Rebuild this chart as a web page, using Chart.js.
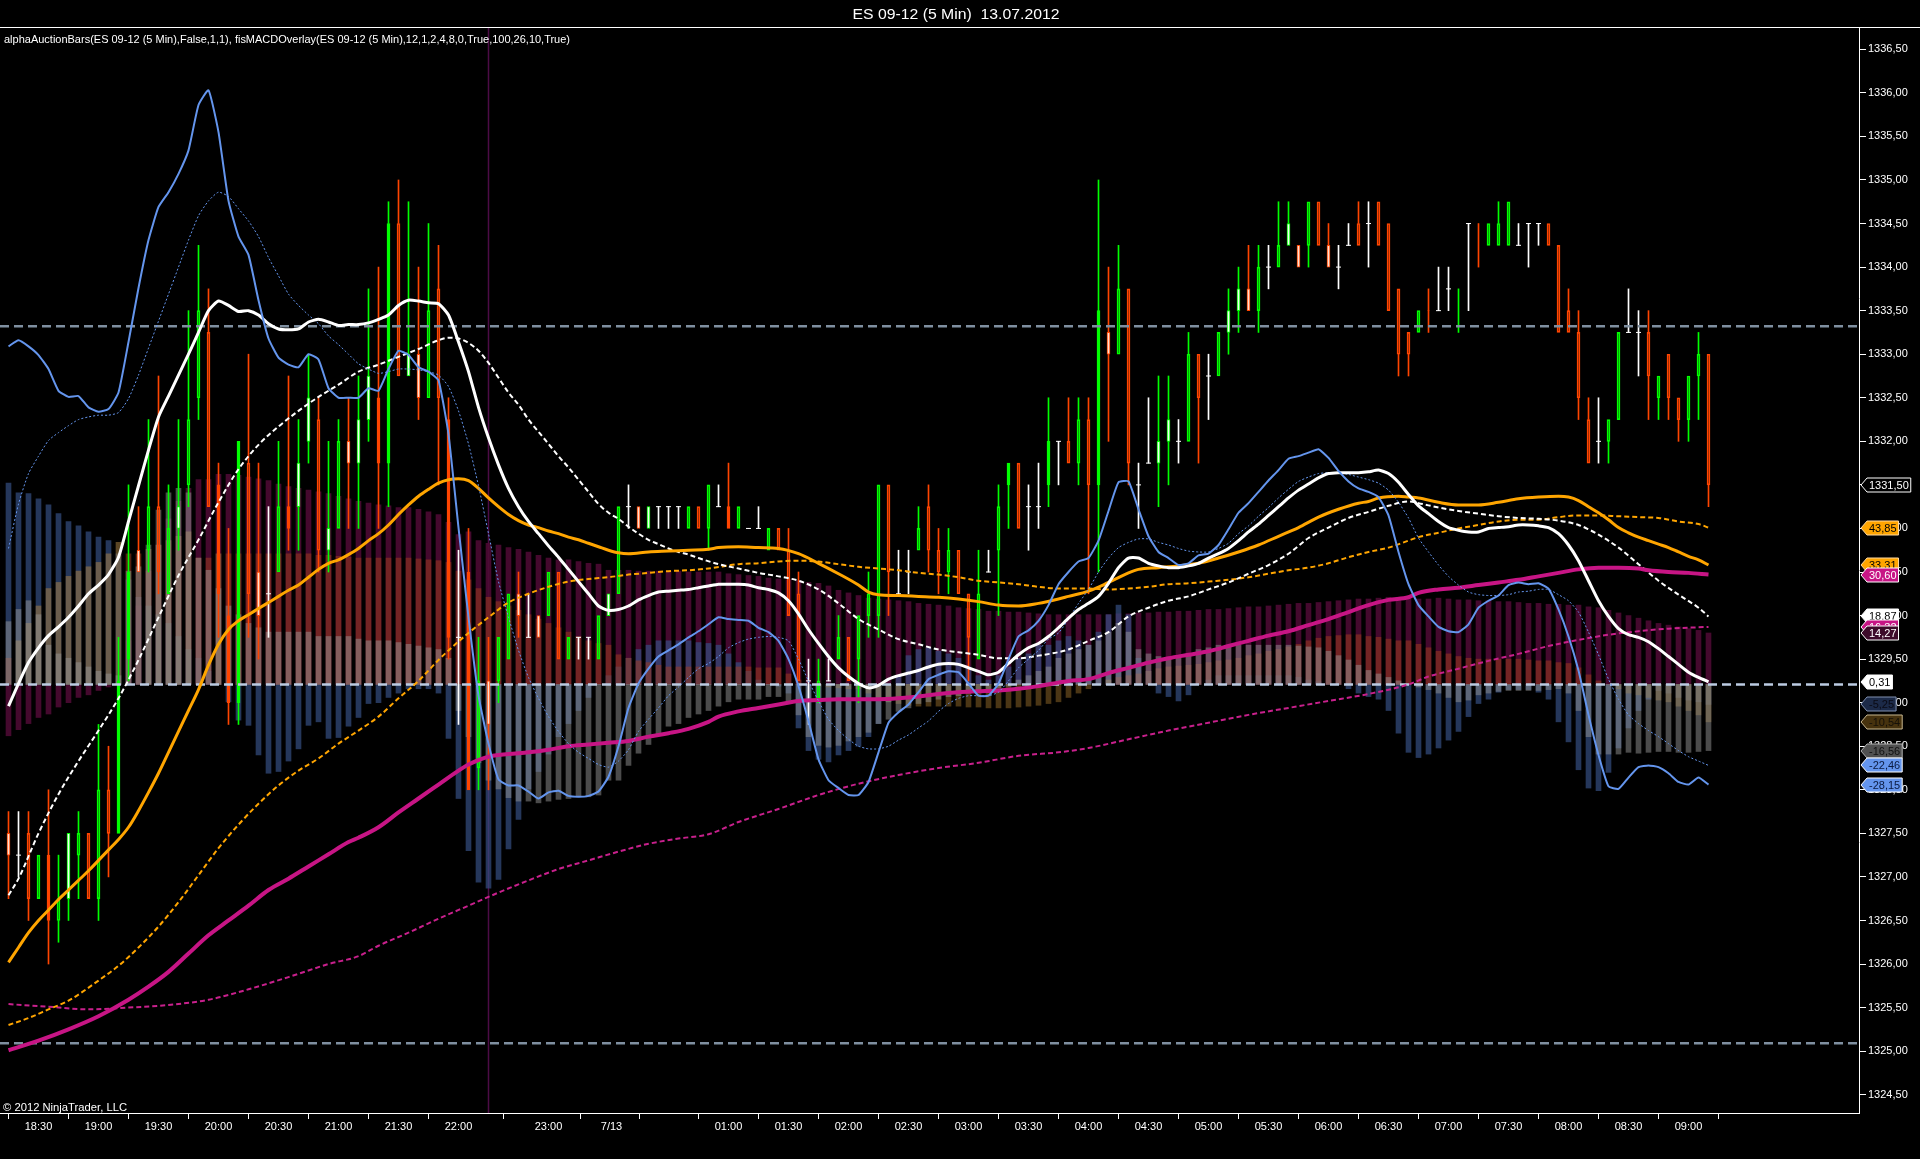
<!DOCTYPE html>
<html><head><meta charset="utf-8">
<script src="https://cdn.jsdelivr.net/npm/chart.js@4.4.1/dist/chart.umd.min.js"></script>
<style>html,body{margin:0;padding:0;background:#000;overflow:hidden}canvas{display:block}</style>
</head><body>
<canvas id="c" width="1920" height="1159"></canvas>
<script>
const TITLE = "ES 09-12 (5 Min)  13.07.2012";
const INDICATOR = "alphaAuctionBars(ES 09-12 (5 Min),False,1,1), fisMACDOverlay(ES 09-12 (5 Min),12,1,2,4,8,0,True,100,26,10,True)";
const COPYRIGHT = "\u00A9 2012 NinjaTrader, LLC";

const tickPos  = [3,9,15,21,27,33,39,45,54,60.3,65.9,72,78,84,90,96,102,108,114,120,126,132,138,144,150,156,162,168];
const tickText = ["18:30","19:00","19:30","20:00","20:30","21:00","21:30","22:00","23:00","7/13","","01:00","01:30","02:00","02:30","03:00","03:30","04:00","04:30","05:00","05:30","06:00","06:30","07:00","07:30","08:00","08:30","09:00"];
const priceTicks = [1324.5,1325,1325.5,1326,1326.5,1327,1327.5,1328,1328.5,1329,1329.5,1330,1330.5,1331,1331.5,1332,1332.5,1333,1333.5,1334,1334.5,1335,1335.5,1336,1336.5];

const refLevels = [1333.32, 1325.09];
const ZERO = 1329.21;
const sessionBreak = 48;

const open = [
1327.5,1327.25,1327.5,1326.75,1327.25,1326.5,1326.75,1327.25,1327.5,1326.75,
1328.0,1327.5,1329.5,1330.75,1330.75,1331.25,1330.25,1331.0,1331.5,1332.5,
1333.25,1331.5,1330.0,1329.0,1331.75,1330.5,1330.25,1330.5,1331.25,1331.25,
1332.0,1332.25,1330.75,1331.0,1332.0,1331.75,1332.25,1332.5,1331.75,1334.5,
1332.75,1333.0,1332.5,1333.75,1332.25,1329.75,1330.5,1328.25,1329.25,1329.25,
1329.5,1330.25,1329.75,1330.0,1330.0,1330.5,1329.5,1329.75,1329.75,1329.5,
1330.0,1330.25,1331.25,1331.25,1331.0,1331.25,1331.25,1331.25,1331.0,1331.25,
1331.0,1331.25,1331.25,1331.0,1331.0,1331.0,1330.75,1331.0,1330.75,1330.25,
1329.25,1329.0,1329.25,1329.5,1329.75,1329.5,1330.0,1330.0,1331.5,1330.25,
1330.5,1330.75,1331.25,1330.75,1330.5,1330.75,1330.25,1329.5,1330.5,1330.75,
1331.5,1331.75,1331.25,1331.25,1331.5,1332.0,1332.0,1331.75,1332.25,1331.5,
1333.25,1333.0,1333.75,1331.5,1331.75,1331.75,1332.0,1332.0,1332.0,1333.0,
1332.75,1332.75,1333.25,1333.5,1333.75,1333.5,1334.0,1334.0,1334.25,1334.25,
1334.25,1334.75,1334.25,1334.0,1334.25,1334.5,1334.5,1334.75,1334.5,1333.75,
1333.25,1333.25,1333.5,1333.75,1333.75,1333.75,1333.75,1334.5,1334.5,1334.25,
1334.25,1334.25,1334.5,1334.5,1334.5,1334.25,1333.5,1333.25,1332.25,1332.0,
1332.0,1332.25,1333.25,1333.25,1333.25,1332.5,1333.0,1332.5,1332.25,1332.75,
1333.0];
const high = [
1327.75,1327.75,1327.75,1327.25,1328.0,1327.25,1327.5,1327.75,1327.5,1328.75,
1328.5,1329.75,1331.5,1331.25,1332.25,1332.75,1331.5,1332.25,1333.5,1334.25,
1333.75,1331.75,1331.0,1332.0,1333.0,1331.75,1331.25,1332.0,1332.75,1332.25,
1333.0,1332.5,1332.0,1332.25,1332.5,1332.75,1333.75,1334.0,1334.75,1335.0,
1334.75,1334.0,1334.5,1334.25,1332.5,1330.75,1331.0,1329.75,1329.75,1329.75,
1330.25,1330.5,1330.25,1330.0,1330.5,1330.5,1329.75,1329.75,1329.75,1330.0,
1330.25,1331.25,1331.5,1331.25,1331.25,1331.25,1331.25,1331.25,1331.25,1331.25,
1331.5,1331.5,1331.75,1331.25,1331.0,1331.25,1331.0,1331.0,1331.0,1330.5,
1329.5,1329.5,1329.5,1330.0,1329.75,1330.0,1330.5,1331.5,1331.5,1330.75,
1330.75,1331.25,1331.5,1331.0,1331.0,1330.75,1330.25,1330.75,1330.75,1331.5,
1331.75,1331.75,1331.5,1331.75,1332.5,1332.0,1332.5,1332.5,1332.5,1335.0,
1334.0,1334.25,1333.75,1331.75,1332.5,1332.75,1332.75,1332.25,1333.25,1333.0,
1333.0,1333.25,1333.75,1334.0,1334.25,1334.25,1334.25,1334.75,1334.75,1334.25,
1334.75,1334.75,1334.5,1334.25,1334.5,1334.75,1334.75,1334.75,1334.5,1333.75,
1333.25,1333.5,1333.75,1334.0,1334.0,1333.75,1334.5,1334.5,1334.5,1334.75,
1334.75,1334.5,1334.5,1334.5,1334.5,1334.25,1333.75,1333.5,1332.5,1332.5,
1332.25,1333.25,1333.75,1333.5,1333.5,1332.75,1333.0,1332.5,1332.75,1333.25,
1333.0];
const low = [
1326.75,1327.0,1326.5,1326.75,1326.0,1326.25,1326.5,1326.75,1326.75,1326.5,
1327.0,1327.5,1329.25,1330.5,1330.5,1330.25,1330.25,1330.75,1331.25,1332.25,
1331.25,1329.75,1328.75,1328.75,1329.75,1329.5,1329.75,1330.5,1330.75,1330.75,
1331.75,1330.5,1330.5,1331.0,1331.0,1331.0,1332.0,1331.0,1331.25,1332.75,
1332.75,1332.25,1332.5,1331.5,1329.5,1328.75,1328.0,1328.0,1328.0,1329.0,
1329.5,1329.75,1329.75,1329.75,1330.0,1329.5,1329.5,1329.5,1329.5,1329.5,
1330.0,1330.25,1331.0,1331.0,1331.0,1331.0,1331.0,1331.0,1331.0,1331.0,
1330.75,1331.25,1331.0,1331.0,1331.0,1331.0,1330.75,1330.75,1330.0,1329.25,
1328.75,1329.0,1329.25,1329.5,1329.25,1329.0,1329.75,1329.75,1330.0,1330.25,
1330.25,1330.75,1330.5,1330.25,1330.25,1330.25,1329.25,1329.5,1330.5,1330.0,
1331.0,1331.0,1330.75,1331.0,1331.25,1331.5,1331.75,1331.5,1330.25,1330.5,
1332.0,1333.0,1331.5,1331.0,1331.75,1331.25,1331.5,1331.75,1332.0,1331.75,
1332.25,1332.75,1333.0,1333.25,1333.5,1333.25,1333.75,1334.0,1334.25,1334.0,
1334.0,1334.25,1334.0,1333.75,1334.25,1334.25,1334.0,1334.25,1333.5,1332.75,
1332.75,1333.25,1333.25,1333.5,1333.5,1333.25,1333.5,1334.0,1334.25,1334.25,
1334.25,1334.25,1334.0,1334.25,1334.25,1333.25,1333.25,1332.25,1331.75,1331.75,
1331.75,1332.25,1333.25,1332.75,1332.25,1332.25,1332.25,1332.0,1332.0,1332.25,
1331.25];
const close = [
1327.25,1327.25,1326.75,1327.25,1326.5,1326.75,1327.5,1327.5,1326.75,1328.0,
1327.5,1329.25,1330.5,1330.5,1331.25,1330.5,1331.0,1331.25,1332.25,1333.5,
1331.25,1330.25,1329.0,1332.0,1330.25,1330.0,1330.25,1331.25,1331.0,1331.75,
1332.5,1330.75,1331.0,1332.0,1331.75,1332.25,1332.75,1331.75,1334.5,1332.75,
1333.0,1332.5,1333.5,1332.5,1329.75,1329.75,1328.0,1329.25,1328.75,1329.75,
1330.25,1330.0,1329.75,1329.75,1330.5,1329.5,1329.75,1329.75,1329.75,1330.0,
1330.25,1331.25,1331.25,1331.0,1331.25,1331.25,1331.25,1331.25,1331.25,1331.0,
1331.5,1331.25,1331.0,1331.25,1331.0,1331.0,1331.0,1330.75,1330.0,1329.25,
1329.25,1329.25,1329.25,1329.75,1329.25,1330.0,1330.25,1331.5,1330.5,1330.25,
1330.5,1331.0,1330.75,1330.5,1330.75,1330.25,1329.75,1330.25,1330.5,1331.25,
1331.75,1331.0,1331.25,1331.25,1332.0,1332.0,1331.75,1332.25,1331.5,1333.5,
1333.0,1333.75,1331.75,1331.5,1331.75,1332.0,1332.25,1332.0,1333.0,1332.5,
1332.75,1333.25,1333.5,1333.75,1333.5,1334.0,1334.0,1334.25,1334.5,1334.0,
1334.75,1334.25,1334.0,1334.0,1334.25,1334.25,1334.5,1334.25,1333.5,1333.0,
1333.0,1333.5,1333.5,1333.5,1333.75,1333.75,1334.5,1334.5,1334.25,1334.5,
1334.75,1334.25,1334.5,1334.5,1334.25,1333.25,1333.25,1332.5,1331.75,1332.0,
1332.25,1333.25,1333.25,1333.25,1332.75,1332.75,1332.5,1332.25,1332.75,1333.0,
1331.5];
// g/G/a green (hollow/filled/pale fill), r/R/b orange-red, w white
const barColor =
"bwrgRgagrg"+"rGGbgrgagg"+"rRRGrbwgRa"+"aragbaaRGr"+"abgrRwRgbg"+
"gbwbgrgwwg"+"agwbawwwgr"+"gwRgwwgrrr"+"wgwgrgggrw"+"wgrrgrrgwg"+
"GrwwGwrgrG"+"bgrwwaawgr"+"wgaabgwgab"+"grbwwrwrrr"+"rgrwwgwrgg"+
"gwwwrrrrrw"+"ggwwrgrrgg"+"r";

const blueFast = [
1333.09,1333.16,1333.09,1332.99,1332.83,1332.58,1332.51,1332.52,1332.39,1332.34,
1332.37,1332.56,1333.14,1333.76,1334.31,1334.69,1334.86,1335.07,1335.34,1335.86,
1336.03,1335.55,1334.76,1334.35,1334.14,1333.62,1333.18,1332.96,1332.88,1332.85,
1333.00,1332.94,1332.61,1332.50,1332.50,1332.50,1332.61,1332.58,1332.83,1333.04,
1332.99,1332.85,1332.80,1332.70,1332.08,1331.01,1329.98,1329.08,1328.53,1328.12,
1328.05,1328.05,1327.98,1327.90,1327.97,1327.99,1327.93,1327.92,1327.93,1327.98,
1328.15,1328.50,1328.94,1329.22,1329.39,1329.53,1329.60,1329.67,1329.75,1329.82,
1329.90,1329.98,1329.96,1329.95,1329.94,1329.86,1329.81,1329.71,1329.50,1329.19,
1328.79,1328.35,1328.11,1328.02,1327.94,1327.94,1328.09,1328.43,1328.77,1328.89,
1328.98,1329.12,1329.27,1329.32,1329.36,1329.35,1329.22,1329.08,1329.08,1329.22,
1329.50,1329.76,1329.83,1329.94,1330.12,1330.36,1330.50,1330.62,1330.66,1330.86,
1331.20,1331.53,1331.54,1331.22,1330.91,1330.73,1330.66,1330.58,1330.60,1330.69,
1330.71,1330.81,1330.99,1331.18,1331.29,1331.42,1331.55,1331.67,1331.80,1331.83,
1331.87,1331.91,1331.81,1331.66,1331.54,1331.46,1331.42,1331.36,1331.15,1330.73,
1330.36,1330.12,1329.99,1329.87,1329.82,1329.81,1329.90,1330.09,1330.17,1330.23,
1330.35,1330.38,1330.36,1330.37,1330.31,1330.07,1329.76,1329.37,1328.86,1328.40,
1328.04,1328.01,1328.14,1328.26,1328.28,1328.26,1328.19,1328.09,1328.06,1328.14,
1328.06];
const blueSlow = [
1330.77,1331.28,1331.63,1331.83,1332.01,1332.10,1332.18,1332.25,1332.28,1332.30,
1332.30,1332.33,1332.49,1332.76,1333.07,1333.38,1333.69,1334.00,1334.31,1334.59,
1334.76,1334.86,1334.81,1334.67,1334.53,1334.35,1334.11,1333.90,1333.69,1333.56,
1333.45,1333.35,1333.21,1333.11,1333.00,1332.89,1332.83,1332.78,1332.80,1332.83,
1332.83,1332.82,1332.80,1332.76,1332.63,1332.35,1331.97,1331.49,1330.94,1330.39,
1329.98,1329.60,1329.29,1329.05,1328.84,1328.67,1328.53,1328.43,1328.36,1328.29,
1328.26,1328.33,1328.46,1328.67,1328.81,1328.94,1329.08,1329.18,1329.29,1329.39,
1329.45,1329.53,1329.63,1329.69,1329.73,1329.75,1329.76,1329.75,1329.71,1329.50,
1329.25,1329.02,1328.81,1328.68,1328.58,1328.50,1328.47,1328.47,1328.50,1328.57,
1328.63,1328.71,1328.79,1328.90,1328.99,1329.05,1329.08,1329.08,1329.08,1329.12,
1329.25,1329.40,1329.50,1329.60,1329.73,1329.80,1329.96,1330.14,1330.30,1330.50,
1330.66,1330.78,1330.84,1330.88,1330.88,1330.84,1330.81,1330.77,1330.74,1330.73,
1330.73,1330.77,1330.83,1330.94,1331.03,1331.14,1331.24,1331.35,1331.45,1331.54,
1331.59,1331.63,1331.64,1331.64,1331.62,1331.59,1331.56,1331.52,1331.44,1331.30,
1331.12,1330.89,1330.73,1330.58,1330.45,1330.35,1330.27,1330.24,1330.23,1330.23,
1330.24,1330.27,1330.28,1330.30,1330.30,1330.24,1330.17,1330.04,1329.81,1329.55,
1329.27,1329.04,1328.86,1328.76,1328.68,1328.61,1328.53,1328.45,1328.38,1328.33,
1328.28];
const whiteFast = [
1328.96,1329.22,1329.46,1329.63,1329.77,1329.87,1329.98,1330.11,1330.25,1330.35,
1330.47,1330.67,1331.08,1331.49,1331.90,1332.28,1332.52,1332.76,1333.00,1333.25,
1333.50,1333.61,1333.56,1333.49,1333.50,1333.45,1333.35,1333.29,1333.28,1333.29,
1333.37,1333.40,1333.37,1333.33,1333.34,1333.34,1333.36,1333.40,1333.45,1333.56,
1333.62,1333.61,1333.59,1333.58,1333.45,1333.14,1332.80,1332.39,1332.04,1331.73,
1331.46,1331.25,1331.08,1330.94,1330.80,1330.67,1330.53,1330.39,1330.25,1330.11,
1330.06,1330.07,1330.11,1330.18,1330.23,1330.27,1330.28,1330.29,1330.30,1330.32,
1330.34,1330.36,1330.36,1330.36,1330.35,1330.32,1330.30,1330.26,1330.17,1330.02,
1329.84,1329.68,1329.53,1329.40,1329.30,1329.22,1329.17,1329.20,1329.27,1329.31,
1329.34,1329.37,1329.41,1329.44,1329.45,1329.44,1329.40,1329.36,1329.32,1329.35,
1329.45,1329.55,1329.63,1329.68,1329.76,1329.86,1329.97,1330.07,1330.14,1330.22,
1330.37,1330.55,1330.66,1330.66,1330.60,1330.57,1330.55,1330.55,1330.57,1330.60,
1330.66,1330.71,1330.77,1330.86,1330.96,1331.05,1331.15,1331.25,1331.35,1331.44,
1331.51,1331.58,1331.63,1331.64,1331.64,1331.64,1331.65,1331.67,1331.63,1331.53,
1331.39,1331.26,1331.17,1331.08,1331.01,1330.98,1330.96,1330.96,1331.00,1331.01,
1331.02,1331.04,1331.04,1331.03,1331.01,1330.94,1330.81,1330.63,1330.40,1330.17,
1329.99,1329.85,1329.78,1329.75,1329.70,1329.62,1329.53,1329.44,1329.35,1329.29,
1329.24];
// [bar index, value] samples
const whiteSlow = [[0,1326.79],[1,1326.98],[3,1327.50],[5,1327.95],[7,1328.33],[9,1328.68],[11,1329.05],[13,1329.49],[15,1329.98],[17,1330.46],[19,1330.87],[21,1331.30],[23,1331.68],[25,1331.96],[27,1332.17],[29,1332.35],[31,1332.51],[33,1332.65],[35,1332.80],[37,1332.88],[39,1332.97],[41,1333.06],[43,1333.16],[44,1333.19],[45,1333.18],[46,1333.13],[47,1333.04],[48,1332.90],[49,1332.73],[50,1332.56],[51,1332.42],[52,1332.25],[53,1332.11],[54,1331.97],[55,1331.83],[56,1331.70],[57,1331.56],[58,1331.42],[59,1331.28],[60,1331.18],[61,1331.11],[62,1331.02],[63,1330.94],[64,1330.87],[65,1330.82],[66,1330.77],[67,1330.73],[68,1330.70],[69,1330.66],[71,1330.59],[73,1330.54],[75,1330.49],[77,1330.45],[79,1330.40],[81,1330.30],[83,1330.14],[85,1329.96],[87,1329.84],[89,1329.73],[91,1329.67],[93,1329.61],[95,1329.58],[97,1329.55],[99,1329.51],[101,1329.51],[103,1329.54],[105,1329.58],[106,1329.61],[108,1329.71],[110,1329.81],[112,1329.99],[114,1330.09],[116,1330.17],[118,1330.22],[120,1330.30],[122,1330.38],[124,1330.48],[126,1330.58],[128,1330.71],[130,1330.89],[132,1331.01],[134,1331.12],[136,1331.19],[138,1331.26],[140,1331.31],[141,1331.29],[143,1331.24],[145,1331.20],[147,1331.17],[149,1331.14],[151,1331.12],[153,1331.11],[155,1331.09],[157,1331.04],[158,1330.99],[159,1330.93],[161,1330.78],[163,1330.59],[165,1330.40],[167,1330.24],[169,1330.09],[170,1329.99]];
const orangeFast = [[0,1326.02],[1,1326.19],[2,1326.36],[3,1326.50],[4,1326.62],[5,1326.74],[6,1326.85],[7,1326.96],[8,1327.07],[9,1327.19],[10,1327.31],[11,1327.43],[12,1327.57],[13,1327.76],[14,1327.97],[15,1328.19],[16,1328.43],[17,1328.67],[18,1328.91],[19,1329.15],[20,1329.43],[21,1329.67],[22,1329.84],[23,1329.94],[24,1330.01],[25,1330.08],[26,1330.15],[27,1330.22],[28,1330.29],[29,1330.35],[30,1330.44],[31,1330.53],[32,1330.60],[33,1330.64],[34,1330.70],[35,1330.77],[36,1330.86],[37,1330.94],[38,1331.04],[39,1331.16],[40,1331.27],[41,1331.37],[42,1331.45],[43,1331.52],[44,1331.56],[45,1331.57],[46,1331.55],[47,1331.46],[48,1331.35],[49,1331.25],[50,1331.16],[51,1331.09],[52,1331.04],[53,1331.01],[54,1330.97],[55,1330.94],[56,1330.90],[57,1330.87],[58,1330.83],[59,1330.79],[60,1330.75],[61,1330.72],[62,1330.71],[64,1330.73],[66,1330.74],[68,1330.75],[70,1330.76],[71,1330.78],[73,1330.79],[75,1330.78],[77,1330.77],[79,1330.71],[81,1330.60],[83,1330.48],[85,1330.35],[86,1330.27],[87,1330.24],[89,1330.23],[91,1330.22],[93,1330.21],[95,1330.19],[97,1330.16],[99,1330.12],[101,1330.11],[103,1330.14],[105,1330.19],[106,1330.22],[108,1330.28],[110,1330.38],[112,1330.49],[113,1330.53],[115,1330.55],[117,1330.57],[119,1330.60],[121,1330.66],[123,1330.73],[125,1330.81],[127,1330.91],[129,1331.01],[131,1331.13],[133,1331.22],[135,1331.29],[136,1331.31],[137,1331.35],[139,1331.37],[140,1331.36],[141,1331.35],[143,1331.30],[145,1331.27],[147,1331.27],[149,1331.30],[151,1331.34],[153,1331.36],[155,1331.37],[156,1331.36],[157,1331.32],[158,1331.25],[159,1331.18],[160,1331.10],[161,1331.01],[162,1330.95],[163,1330.90],[164,1330.86],[165,1330.82],[166,1330.78],[167,1330.73],[168,1330.68],[169,1330.64],[170,1330.58]];
const orangeSlow = [[0,1325.30],[2,1325.38],[4,1325.48],[6,1325.58],[9,1325.81],[11,1325.98],[13,1326.19],[15,1326.43],[17,1326.71],[19,1327.02],[21,1327.33],[23,1327.60],[25,1327.84],[27,1328.05],[29,1328.22],[31,1328.36],[33,1328.53],[35,1328.68],[37,1328.84],[39,1329.05],[41,1329.25],[43,1329.49],[44,1329.60],[46,1329.80],[48,1329.98],[50,1330.15],[52,1330.25],[54,1330.33],[56,1330.39],[58,1330.42],[60,1330.44],[62,1330.47],[64,1330.49],[66,1330.51],[68,1330.52],[70,1330.54],[73,1330.59],[75,1330.60],[77,1330.62],[79,1330.63],[81,1330.62],[83,1330.59],[85,1330.56],[87,1330.54],[89,1330.52],[91,1330.49],[93,1330.47],[95,1330.44],[97,1330.40],[99,1330.38],[101,1330.36],[103,1330.33],[105,1330.31],[108,1330.31],[110,1330.30],[112,1330.31],[114,1330.33],[116,1330.36],[118,1330.37],[120,1330.39],[122,1330.41],[124,1330.44],[126,1330.48],[128,1330.52],[130,1330.55],[132,1330.60],[134,1330.67],[136,1330.73],[138,1330.78],[140,1330.86],[141,1330.90],[143,1330.95],[145,1331.00],[147,1331.04],[149,1331.08],[151,1331.10],[153,1331.10],[155,1331.13],[157,1331.15],[159,1331.15],[161,1331.14],[163,1331.13],[165,1331.12],[167,1331.08],[169,1331.05],[170,1331.01]];
const magentaFast = [[0,1325.01],[3,1325.12],[6,1325.25],[9,1325.40],[12,1325.59],[14,1325.74],[16,1325.91],[18,1326.12],[20,1326.33],[22,1326.50],[24,1326.67],[26,1326.85],[28,1326.98],[30,1327.12],[32,1327.26],[34,1327.40],[35,1327.45],[37,1327.57],[39,1327.74],[41,1327.90],[43,1328.06],[45,1328.22],[46,1328.29],[48,1328.38],[50,1328.41],[52,1328.43],[54,1328.46],[56,1328.50],[58,1328.52],[60,1328.54],[62,1328.56],[64,1328.61],[66,1328.65],[68,1328.70],[70,1328.78],[71,1328.84],[73,1328.90],[75,1328.94],[77,1328.98],[79,1329.02],[81,1329.03],[83,1329.04],[85,1329.04],[87,1329.04],[89,1329.05],[91,1329.07],[93,1329.10],[95,1329.12],[97,1329.13],[99,1329.14],[101,1329.16],[103,1329.19],[105,1329.23],[106,1329.25],[108,1329.27],[110,1329.34],[112,1329.40],[114,1329.46],[116,1329.51],[118,1329.55],[120,1329.59],[122,1329.65],[124,1329.71],[126,1329.77],[128,1329.82],[130,1329.89],[132,1329.96],[134,1330.04],[136,1330.12],[138,1330.18],[140,1330.21],[141,1330.26],[143,1330.30],[145,1330.32],[147,1330.35],[149,1330.38],[151,1330.41],[153,1330.45],[155,1330.49],[157,1330.53],[159,1330.55],[161,1330.55],[163,1330.54],[164,1330.52],[166,1330.50],[168,1330.49],[170,1330.47]];
const magentaSlow = [[0,1325.54],[4,1325.51],[8,1325.48],[12,1325.50],[16,1325.53],[20,1325.59],[24,1325.71],[28,1325.85],[32,1326.00],[35,1326.09],[37,1326.21],[40,1326.36],[43,1326.52],[46,1326.67],[49,1326.82],[52,1326.96],[55,1327.09],[58,1327.19],[61,1327.29],[64,1327.38],[67,1327.44],[70,1327.49],[73,1327.63],[77,1327.78],[81,1327.94],[85,1328.07],[89,1328.17],[93,1328.25],[97,1328.31],[101,1328.39],[105,1328.43],[108,1328.48],[112,1328.58],[116,1328.68],[120,1328.77],[124,1328.86],[128,1328.94],[132,1329.02],[136,1329.10],[140,1329.21],[142,1329.30],[145,1329.39],[148,1329.48],[151,1329.56],[154,1329.65],[157,1329.72],[160,1329.78],[163,1329.82],[166,1329.85],[170,1329.87]];

// histogram values (price offset from the zero line)
const hist1 = [
2.31,2.20,2.19,2.13,2.06,1.96,1.87,1.82,1.75,1.69,1.65,1.50,
1.20,1.00,0.90,0.80,0.70,0.55,0.40,0.30,0.15,0.00,
-0.20,-0.41,-0.47,-0.81,-1.02,-1.00,-0.88,-0.74,-0.47,-0.43,-0.62,-0.61,-0.48,-0.38,
-0.22,-0.21,-0.15,-0.10,-0.05,-0.05,-0.05,-0.10,
-0.62,-1.31,-1.91,-2.27,-2.34,-2.24,-1.89,-1.55,-1.20,-1.00,-0.80,-0.60,-0.45,-0.30,-0.15,0.00,
0.10,0.20,0.30,0.40,0.45,0.50,0.50,0.50,0.50,0.48,
0.47,0.45,0.35,0.25,0.15,0.05,0.00,-0.02,-0.10,
-0.50,-0.76,-0.86,-0.89,-0.81,-0.76,-0.71,-0.60,-0.45,-0.20,
0.10,0.33,0.40,0.42,0.38,0.35,0.30,0.20,0.10,0.05,0.10,0.20,0.30,0.35,0.45,0.45,0.50,
0.55,0.50,0.45,0.60,0.80,0.91,0.80,0.30,0.15,-0.10,-0.14,-0.19,-0.12,0.00,
0.05,0.10,0.10,0.10,0.10,0.10,0.10,0.10,0.10,0.08,0.05,0.03,0.00,0.00,
-0.05,-0.10,-0.14,-0.17,-0.30,-0.56,-0.78,
-0.84,-0.80,-0.73,-0.64,-0.54,-0.37,-0.22,-0.17,-0.09,-0.06,-0.06,-0.06,-0.09,-0.17,-0.43,-0.66,-0.98,-1.19,-1.22,-1.01,-0.73,-0.50,-0.30,-0.17,-0.07,-0.10,-0.15,-0.18,-0.20,-0.23];
const hist2 = [
0.72,0.86,0.96,0.80,0.45,0.35,0.30,0.25,0.20,0.15,0.12,0.10,
1.30,1.35,1.60,2.00,2.20,2.25,2.20,1.45,1.31,1.10,
0.90,0.80,0.70,0.65,0.60,0.60,0.60,0.60,0.60,0.55,0.55,0.55,0.55,0.52,
0.50,0.50,0.50,0.48,0.46,0.44,0.42,0.40,0.30,
-0.30,-0.60,-0.90,-1.10,-1.20,-1.30,-1.34,-1.34,-1.36,-1.34,-1.32,-1.31,-1.29,-1.29,-1.27,
-1.10,-1.10,-0.93,-0.79,-0.69,-0.58,-0.48,-0.45,-0.38,-0.34,-0.30,
-0.25,-0.20,-0.17,-0.17,-0.17,-0.14,-0.14,-0.22,
-0.35,-0.60,-0.70,-0.72,-0.70,-0.65,-0.60,-0.55,-0.45,-0.40,
-0.31,-0.27,-0.22,-0.20,-0.17,-0.14,-0.13,-0.10,-0.08,-0.06,-0.04,-0.02,
0.05,0.10,0.15,0.20,0.30,0.35,0.40,0.45,0.50,0.60,0.70,0.60,
0.40,0.35,0.32,0.30,0.30,0.35,0.40,0.42,0.45,0.45,0.45,0.45,0.45,0.45,0.45,0.45,0.44,0.43,0.42,
0.38,0.33,0.28,0.22,0.16,0.12,0.08,0.04,0.00,
-0.03,-0.06,-0.10,-0.15,-0.20,-0.18,-0.12,-0.10,-0.08,-0.07,-0.07,-0.07,-0.07,-0.06,-0.05,-0.10,
-0.30,-0.60,-0.80,-0.80,-0.80,-0.78,-0.79,-0.78,-0.77,-0.77,-0.78,-0.78,-0.77,-0.76];
const hist3 = [
0.30,0.50,0.70,0.90,1.10,1.17,1.24,1.30,1.35,1.40,1.50,1.63,
1.50,1.50,1.55,1.60,1.65,1.70,1.75,1.45,1.45,1.50,
1.50,1.50,1.50,1.50,1.50,1.50,1.50,1.50,1.50,1.48,1.48,1.47,1.46,1.45,
1.45,1.45,1.45,1.45,1.45,1.44,1.43,1.42,1.40,1.30,1.20,1.10,
1.00,0.95,0.90,0.85,0.80,0.75,0.70,0.65,0.60,0.55,0.50,0.47,0.45,
0.34,0.30,0.27,0.25,0.22,0.20,0.20,0.20,0.20,0.20,0.20,0.20,0.20,0.20,0.19,0.19,0.19,0.12,0.05,0.00,
-0.02,-0.03,-0.04,-0.05,-0.05,-0.10,-0.15,-0.20,-0.22,-0.24,-0.25,-0.25,-0.25,-0.25,-0.25,-0.26,-0.26,-0.27,-0.27,-0.27,-0.26,-0.25,-0.24,-0.22,-0.20,
-0.15,-0.10,-0.05,0.00,0.05,0.08,0.10,0.12,0.15,0.18,0.20,0.21,0.22,0.23,0.25,0.27,0.28,0.30,0.33,0.35,0.38,0.40,0.43,0.46,0.50,0.53,0.55,0.56,0.57,0.57,0.55,0.54,0.52,0.50,0.50,
0.46,0.42,0.38,0.35,0.32,0.30,0.29,0.29,0.29,0.29,0.29,0.28,0.27,0.27,0.25,0.24,0.19,0.11,0.04,0.00,-0.05,-0.10,-0.12,-0.15,-0.18,-0.20,-0.25,-0.30,-0.35,-0.43];
const hist4 = [
-0.59,-0.52,-0.45,-0.38,-0.34,-0.26,-0.21,-0.15,-0.12,-0.07,-0.03,0.00,
0.50,0.90,1.30,1.60,1.90,2.10,2.25,2.35,
2.35,2.41,2.41,2.40,2.38,2.36,2.34,2.30,2.27,2.25,2.23,2.21,2.19,2.16,2.13,2.10,
2.08,2.06,2.05,2.03,2.03,2.01,1.98,1.95,1.86,1.72,1.75,1.65,
1.62,1.60,1.57,1.55,1.52,1.48,1.45,1.43,1.43,1.41,1.39,1.38,1.31,1.31,1.31,
1.30,1.30,1.30,1.30,1.30,1.29,1.29,
1.29,1.29,1.27,1.26,1.25,1.24,1.22,1.21,1.20,1.19,1.17,1.16,1.13,1.08,1.05,1.02,0.99,0.98,0.97,0.96,0.95,0.93,0.92,0.91,0.90,0.88,0.87,0.86,0.84,0.84,0.83,0.83,0.82,0.81,0.80,0.80,
0.80,0.80,0.80,0.80,0.80,0.81,0.81,0.82,0.82,0.83,0.83,0.84,0.84,0.85,0.86,0.86,0.87,0.88,0.89,0.89,0.90,0.91,0.92,0.93,0.93,0.94,0.95,0.96,0.97,0.98,0.98,0.99,1.00,1.00,1.01,
0.98,0.98,0.99,0.98,0.97,0.97,0.96,0.96,0.95,0.95,0.94,0.93,0.93,0.92,0.92,0.91,0.91,0.89,0.88,0.85,0.82,0.79,0.76,0.73,0.70,0.68,0.66,0.64,0.62,0.59];

const flagTexts = ["43,85","33,31","30,60","18,87","16,32","14,27","0,31","-5,25","-10,54","-16,56","-22,46","-28,15","1331,50"];

// ---------------------------------------------------------------
const FONT = '"Liberation Sans", Arial, Helvetica, sans-serif';
Chart.defaults.font.family = FONT;
Chart.defaults.font.size = 11;
Chart.defaults.color = '#ffffff';

const X_MIN = -0.85, X_MAX = 185.05;
const Y_MIN = 1324.29, Y_MAX = 1336.756;
const last = a => a[a.length - 1];
const lastPair = a => a[a.length - 1][1];

const COL = {g:'#00ff00',G:'#00ff00',a:'#00ff00',r:'#ff4500',R:'#ff4500',b:'#ff4500',w:'#ffffff'};
const FILL = {g:'rgba(0,0,0,0)',G:'#00ff00',a:'#f2fff2',r:'rgba(0,0,0,0)',R:'#ff4500',b:'#ffe0d0'};

const wickData = [], bodyData = [], dojiData = [];
close.forEach((c, i) => {
  const k = barColor[i];
  const top = Math.max(open[i], c), bot = Math.min(open[i], c);
  if (k === 'w') {
    wickData.push({x:i, y:[low[i], high[i]], k});
    dojiData.push({x:i, y:c});
  } else {
    if (high[i] > top) wickData.push({x:i, y:[top, high[i]], k});
    if (low[i] < bot) wickData.push({x:i, y:[low[i], bot], k});
    bodyData.push({x:i, y:[open[i], c], k});
  }
});

const pts = a => a.map((v, i) => ({x:i, y:v}));
const pairs = a => a.map(p => ({x:p[0], y:p[1]}));

function histDS(arr, colorFn, order) {
  return {type:'bar', data: arr.map((v, i) => ({x:i, y:[ZERO, ZERO + v]})),
    backgroundColor: ctx => colorFn(ctx.dataIndex), barThickness:5, grouped:false, order};
}
const c4 = i => 'rgba(78,10,52,0.88)';
const c3 = i => { const v = hist3[i], p = i > 0 ? hist3[i-1] : v;
  if (v < 0) return 'rgba(125,90,35,0.6)';
  return (v - p > 0.045) ? 'rgba(165,125,65,0.55)' : 'rgba(155,58,30,0.55)'; };
const c2 = i => 'rgba(150,150,150,0.5)';
const c1 = i => 'rgba(52,78,130,0.7)';

function lineDS(data, color, width, dash, order, tension) {
  return {type:'line', data, borderColor:color, borderWidth:width, borderDash:dash || [],
    pointRadius:0, fill:false, order, tension: tension || 0, cubicInterpolationMode: tension ? 'default' : 'monotone'};
}

const datasets = [
  histDS(hist4, c4, 20),
  histDS(hist1, c1, 19),
  histDS(hist3, c3, 18),
  histDS(hist2, c2, 17),
  {type:'bar', data: wickData, barThickness:1, grouped:false, order:15,
    backgroundColor: ctx => COL[ctx.raw.k]},
  {type:'bar', data: bodyData, barThickness:3, grouped:false, order:14, borderWidth:1, borderSkipped:false,
    borderColor: ctx => COL[ctx.raw.k], backgroundColor: ctx => FILL[ctx.raw.k]},
  {type:'line', data: dojiData, showLine:false, pointStyle:'line', pointRadius:2.5, pointBorderColor:'#ffffff',
    pointBorderWidth:1, order:13},
  lineDS([{x:X_MIN,y:refLevels[0]},{x:X_MAX,y:refLevels[0]}], '#7f8fa0', 2.5, [9,5], 12),
  lineDS([{x:X_MIN,y:refLevels[1]},{x:X_MAX,y:refLevels[1]}], '#7f8fa0', 2.5, [9,5], 12),
  lineDS([{x:X_MIN,y:ZERO},{x:X_MAX,y:ZERO}], '#bccbe2', 2.5, [9,5], 12),
  lineDS(pairs(magentaSlow), '#c8208c', 2, [5,3], 9),
  lineDS(pairs(orangeSlow), '#ffa500', 2, [5,3], 8),
  lineDS(pairs(whiteSlow), '#ffffff', 2, [5,3], 7),
  lineDS(pairs(magentaFast), '#c71585', 4, null, 6),
  lineDS(pairs(orangeFast), '#ffa500', 3, null, 5),
  lineDS(pts(blueSlow), '#6495ed', 1, [2,2], 4, 0.2),
  lineDS(pts(whiteFast), '#ffffff', 3, null, 3, 0.2),
  lineDS(pts(blueFast), '#6495ed', 2, null, 2, 0.15)
];

function fitText(ctx, t, x, y, target, size, align, color) {
  ctx.save();
  ctx.font = size + 'px ' + FONT;
  const w = ctx.measureText(t).width;
  ctx.translate(x, y);
  ctx.scale(target / w, 1);
  ctx.textAlign = align; ctx.textBaseline = 'middle'; ctx.fillStyle = color;
  ctx.fillText(t, 0, 0);
  ctx.restore();
}
function flag(ctx, x0, y, text, bg, fg, border) {
  ctx.font = '11px ' + FONT;
  const w = ctx.measureText(text).width;
  const h = 14, tip = 6, right = x0 + tip + w + 4;
  ctx.beginPath();
  ctx.moveTo(x0, y);
  ctx.lineTo(x0 + tip, y - h/2);
  ctx.lineTo(right, y - h/2);
  ctx.lineTo(right, y + h/2);
  ctx.lineTo(x0 + tip, y + h/2);
  ctx.closePath();
  ctx.fillStyle = bg; ctx.fill();
  ctx.strokeStyle = border; ctx.lineWidth = 1; ctx.stroke();
  ctx.fillStyle = fg; ctx.textAlign = 'left'; ctx.textBaseline = 'middle';
  ctx.fillText(text, x0 + tip + 2, y + 0.5);
}

const flagValues = [lastPair(orangeSlow), lastPair(orangeFast), lastPair(magentaFast), lastPair(whiteSlow),
  lastPair(magentaSlow), ZERO + last(hist4), last(whiteFast), ZERO + last(hist1), ZERO + last(hist3),
  ZERO + last(hist2), last(blueSlow), last(blueFast), last(close)];
const flagStyle = [
  ['#ffa500','#000000','#ffd9a0'], ['#ffa500','#000000','#ffd9a0'], ['#c71585','#ffffff','#ffffff'],
  ['#ffffff','#000000','#ffffff'], ['#c71585','#ffffff','#ffffff'], ['#3d0b2a','#ffffff','#ffffff'],
  ['#ffffff','#000000','#ffffff'], ['#1c2a48','#0a0a14','#8090b0'], ['#46320e','#151008','#c8b890'],
  ['#505050','#101010','#b0b0b0'], ['#6495ed','#0a1a40','#ffffff'], ['#6495ed','#0a1a40','#ffffff'],
  ['#000000','#ffffff','#ffffff']];

const decor = {
  id:'decor',
  beforeDatasetsDraw(chart) {
    const {ctx, chartArea:a, scales:{x}} = chart;
    const px = x.getPixelForValue(sessionBreak);
    ctx.save(); ctx.strokeStyle = '#4c0c46'; ctx.lineWidth = 1.5;
    ctx.beginPath(); ctx.moveTo(px, a.top); ctx.lineTo(px, a.bottom); ctx.stroke(); ctx.restore();
  },
  afterDraw(chart) {
    const {ctx, chartArea:a, scales:{y}} = chart;
    ctx.save();
    ctx.strokeStyle = '#ffffff'; ctx.lineWidth = 1;
    ctx.beginPath(); ctx.moveTo(0, a.top + 0.5); ctx.lineTo(chart.width, a.top + 0.5); ctx.stroke();
    fitText(ctx, TITLE, 956, 15, 207, 15, 'center', '#ffffff');
    fitText(ctx, INDICATOR, 4, 39.5, 566, 11, 'left', '#ffffff');
    fitText(ctx, COPYRIGHT, 3, 1108, 124, 11, 'left', '#ffffff');
    flagTexts.forEach((t, i) => {
      const s = flagStyle[i];
      flag(ctx, a.right + 2, Math.round(y.getPixelForValue(flagValues[i])), t, s[0], s[1], s[2]);
    });
    ctx.restore();
  }
};

new Chart(document.getElementById('c'), {
  type:'bar',
  data:{datasets},
  options:{
    responsive:false, animation:false, devicePixelRatio:1,
    layout:{autoPadding:false, padding:{top:27, left:0, right:0, bottom:0}},
    plugins:{legend:{display:false}, tooltip:{enabled:false}},
    scales:{
      x:{type:'linear', min:X_MIN, max:X_MAX, offset:false, position:'bottom',
        afterBuildTicks: s => { s.ticks = tickPos.map(v => ({value:v})); },
        afterFit: s => { s.height = 46; },
        ticks:{autoSkip:false, maxRotation:0, padding:1, color:'#ffffff', font:{size:11},
          callback:(v, i) => tickText[i]},
        grid:{drawOnChartArea:false, drawTicks:true, tickLength:6, color:'#ffffff'},
        border:{display:true, color:'#ffffff', width:1}},
      y:{type:'linear', position:'right', min:Y_MIN, max:Y_MAX,
        afterBuildTicks: s => { s.ticks = priceTicks.map(v => ({value:v})); },
        afterFit: s => { s.width = 61; },
        ticks:{padding:2, color:'#ffffff', font:{size:11},
          callback: v => Number(v).toFixed(2).replace('.', ',')},
        grid:{drawOnChartArea:false, drawTicks:true, tickLength:7, color:'#ffffff'},
        border:{display:true, color:'#ffffff', width:1}}
    }
  },
  plugins:[decor]
});
</script>
</body></html>
